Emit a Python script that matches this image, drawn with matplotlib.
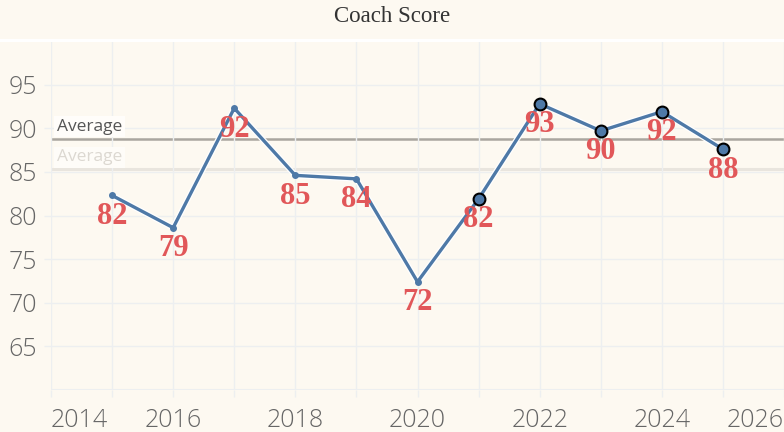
# Coach Score line chart

# Importing the libraries
import numpy as np
import matplotlib
matplotlib.use('Agg')
import matplotlib.pyplot as plt
import matplotlib.patheffects as pe
from matplotlib.lines import Line2D

# Data
years = [2015, 2016, 2017, 2018, 2019, 2020, 2021, 2022, 2023, 2024, 2025]
scores = [82.3, 78.6, 92.3, 84.6, 84.2, 72.4, 81.9, 92.8, 89.7, 91.9, 87.6]
recent_start = 2021   # points from here on get the outlined markers
y_ticks = [65, 70, 75, 80, 85, 90, 95]
x_ticks = [2014, 2016, 2018, 2020, 2022, 2024, 2026]

years = np.array(years)
scores = np.array(scores)
recent = years >= recent_start
avg_all = scores.mean()
avg_recent = scores[recent].mean()

bg = '#fdf9f1'
grid_col = '#edeff0'
line_col = '#4e79a7'
label_col = '#e15759'
tick_col = '#666666'

fig = plt.figure(figsize=(7.84, 4.32), dpi=100, facecolor=bg)
ax = fig.add_axes([51/784, 1 - 390/432, 733/784, 349/432])
ax.set_facecolor(bg)

# title and white separator band
fig.text(0.5, 1 - 17/432, 'Coach Score', ha='center', va='center',
         fontsize=16.5, family='Liberation Serif', color='#333333')
fig.add_artist(Line2D([0, 1], [1 - 39.5/432, 1 - 39.5/432],
                      color='white', lw=2.2, transform=fig.transFigure))

# axes and grid
ax.set_xlim(2014, 2026)
ax.set_ylim(60, 100)
ax.set_xticks(np.arange(2014, 2027), minor=False)
ax.set_xticklabels([str(y) if y in x_ticks else '' for y in range(2014, 2027)])
ax.set_yticks(y_ticks)
ax.grid(True, color=grid_col, lw=1)
ax.axhline(60, color=grid_col, lw=1.5)
for s in ax.spines.values():
    s.set_visible(False)
ax.tick_params(axis='both', colors=grid_col, length=5, width=1,
               labelcolor=tick_col, labelsize=18)
ax.tick_params(axis='x', pad=8)
ax.tick_params(axis='y', pad=5)
for lab in ax.get_xticklabels() + ax.get_yticklabels():
    lab.set_family('Open Sans')
    lab.set_fontweight('light')
xl = ax.get_xticklabels()
xl[0].set_ha('left')
xl[-1].set_ha('right')

# average reference lines
ax.axhline(avg_all, color='#e9e5de', lw=2.2, zorder=1)
ax.axhline(avg_recent, color='#aaa69f', lw=1.8, zorder=1)
ax.annotate('Average', xy=(0, avg_all), xycoords=('axes fraction', 'data'),
            xytext=(6, 4), textcoords='offset pixels', va='bottom', ha='left',
            fontsize=12.5, family='Open Sans', color='#dcd8d1',
            bbox=dict(boxstyle='square,pad=0.15', fc='#fefcf8', ec='none'))
ax.annotate('Average', xy=(0, avg_recent), xycoords=('axes fraction', 'data'),
            xytext=(6, 4), textcoords='offset pixels', va='bottom', ha='left',
            fontsize=12.5, family='Open Sans', color='#555555',
            bbox=dict(boxstyle='square,pad=0.15', fc='#fffdfa', ec='none'))

# main line
halo = [pe.Stroke(linewidth=4.2, foreground='white'), pe.Normal()]
ax.plot(years, scores, color=line_col, lw=2.4, zorder=3, path_effects=halo)
ax.plot(years[~recent], scores[~recent], 'o', color=line_col, ms=4, zorder=4)
ax.plot(years[recent], scores[recent], 'o', color=line_col, ms=8.5,
        mec='black', mew=1.5, zorder=4)

# value labels under each point
for x, v in zip(years, scores):
    ax.annotate('%d' % round(v), xy=(x, v), xytext=(0, -21),
                textcoords='offset pixels', ha='center', va='center',
                fontsize=22, fontweight='bold', family='Liberation Serif',
                color=label_col, zorder=5)

fig.savefig('out.png', dpi=100, facecolor=bg)
